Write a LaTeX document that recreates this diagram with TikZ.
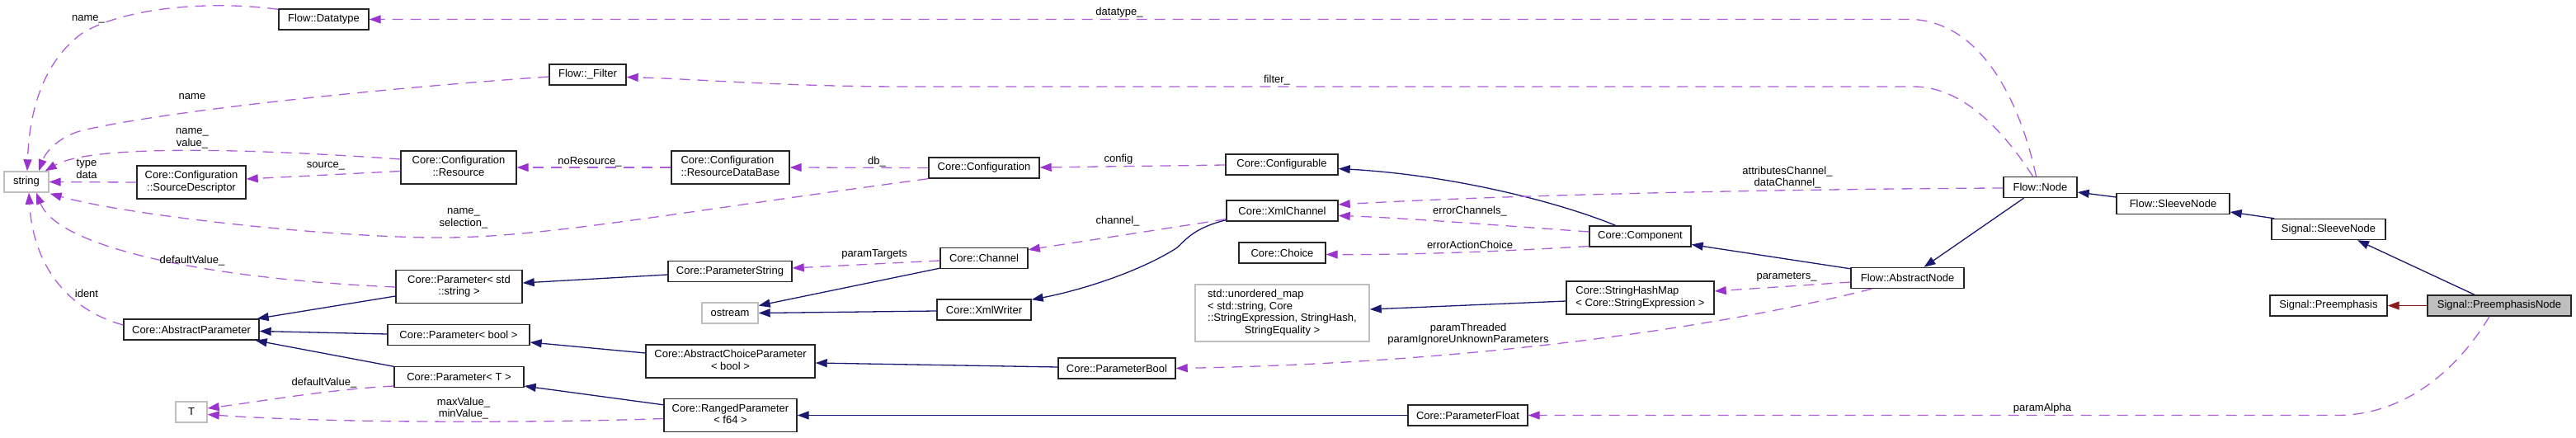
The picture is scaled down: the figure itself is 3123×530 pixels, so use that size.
\documentclass[tikz,border=0pt]{standalone}
\usepackage{fontspec}
\setmainfont{Liberation Sans}
\usetikzlibrary{arrows.meta,calc}
\definecolor{navy}{HTML}{191970}
\definecolor{orch}{HTML}{9A32CD}
\definecolor{orchline}{HTML}{AE5FDB}
\definecolor{fire}{HTML}{8B1A1A}
\definecolor{grey75}{HTML}{BFBFBF}
\newcommand{\dfont}{\fontsize{13}{14.7}\selectfont}
\newcommand{\mlt}[2]{\begin{tabular}{@{}l@{}}#1\\\multicolumn{1}{@{}c@{}}{#2}\end{tabular}}
\begin{document}
\begin{tikzpicture}[x=1pt,y=-1pt,
 cls/.style={draw=black!85, line width=1.4pt, fill=white, inner sep=0pt, font=\dfont, minimum height=25pt},
 ext/.style={cls, draw=grey75},
 inh/.style={draw=navy, line width=1.3pt, -{Triangle[length=14pt,width=10pt]}},
 priv/.style={draw=fire, line width=1.3pt, -{Triangle[length=14pt,width=10pt]}},
 use/.style={draw=orchline, line width=1.3pt, dash pattern=on 13pt off 9pt, -{Triangle[length=14pt,width=10pt,color=orch]}},
 lbl/.style={font=\dfont, align=center, inner sep=0pt}]
\useasboundingbox (0,0) rectangle (3123,530);

% nodes
\node[ext, minimum width=54pt] (str) at (32,220.5) {string};
\node[cls, minimum width=109pt] (dt) at (392.5,23.5) {Flow::Datatype};
\node[cls, minimum width=132pt, minimum height=40pt] (sd) at (232,221) {\mlt{Core::Configuration}{::SourceDescriptor}};
\node[cls, minimum width=140pt, minimum height=40pt] (res) at (556,203) {\mlt{Core::Configuration}{::Resource}};
\node[cls, minimum width=93pt] (flt) at (712.5,90.5) {Flow::\_Filter};
\node[cls, minimum width=143pt, minimum height=40pt] (rdb) at (885.5,203) {\mlt{Core::Configuration}{::ResourceDataBase}};
\node[cls, minimum width=134pt] (conf) at (1193,203.5) {Core::Configuration};
\node[cls, minimum width=136pt] (cfg) at (1554,199.5) {Core::Configurable};
\node[cls, minimum width=135pt] (xc) at (1554.5,255.5) {Core::XmlChannel};
\node[cls, minimum width=89pt] (fn) at (2473.5,227) {Flow::Node};
\node[cls, minimum width=137pt] (fs) at (2634.5,247) {Flow::SleeveNode};
\node[cls, minimum width=138pt] (ss) at (2823,278) {Signal::SleeveNode};
\node[cls, minimum width=142pt] (pre) at (2823,370.5) {Signal::Preemphasis};
\node[cls, minimum width=174pt, fill=grey75] (pn) at (3030,370.5) {Signal::PreemphasisNode};
\node[cls, minimum width=164pt] (ap) at (232,399.5) {Core::AbstractParameter};
\node[ext, minimum width=38pt] (T) at (232,499.5) {T};
\node[cls, minimum width=153pt, minimum height=40pt] (pss) at (556.5,347.5) {\mlt{Core::Parameter< std}{::string >}};
\node[cls, minimum width=172pt] (pb) at (556,406) {Core::Parameter< bool >};
\node[cls, minimum width=157pt] (pt) at (556.5,457) {Core::Parameter< T >};
\node[cls, minimum width=150pt] (pstr) at (885,329) {Core::ParameterString};
\node[ext, minimum width=68pt] (os) at (885,379.5) {ostream};
\node[cls, minimum width=205pt, minimum height=40pt] (acp) at (885.5,438) {\mlt{Core::AbstractChoiceParameter}{< bool >}};
\node[cls, minimum width=161pt, minimum height=40pt] (rp) at (885.5,503.5) {\mlt{Core::RangedParameter}{< f64 >}};
\node[cls, minimum width=106pt] (ch) at (1193,313) {Core::Channel};
\node[cls, minimum width=114pt] (xw) at (1193,375.5) {Core::XmlWriter};
\node[ext, minimum width=211pt, minimum height=69pt] (um) at (1554.5,379.5) {\begin{tabular}{@{}l@{}}std::unordered\_map\\< std::string, Core\\::StringExpression, StringHash,\\\multicolumn{1}{@{}c@{}}{StringEquality >}\end{tabular}};
\node[cls, minimum width=142pt] (pbool) at (1354,446.5) {Core::ParameterBool};
\node[cls, minimum width=105pt] (cho) at (1554.5,306.5) {Core::Choice};
\node[cls, minimum width=123pt] (comp) at (1988.5,286.5) {Core::Component};
\node[cls, minimum width=179pt, minimum height=40pt] (shm) at (1988.5,361) {\mlt{Core::StringHashMap}{< Core::StringExpression >}};
\node[cls, minimum width=145pt] (pf) at (1779.5,503.5) {Core::ParameterFloat};
\node[cls, minimum width=137pt] (an) at (2312.5,337) {Flow::AbstractNode};

% inheritance
\draw[inh] ($(pn.north)+(-30,0)$) -- ($(ss.south)+(35,0)$);
\draw[inh] ($(ss.north west)+(4,0)$) -- ($(fs.east)+(0,10)$);
\draw[inh] ($(fs.west)+(0,-8)$) -- ($(fn.east)+(0,6)$);
\draw[inh] ($(fn.south)+(-20,0)$) -- ($(an.north)+(20,0)$);
\draw[inh] ($(an.north west)+(0,2)$) -- ($(comp.east)+(0,10)$);
\draw[inh] ($(comp.north)+(-30,0)$) .. controls (1890,245) and (1760,212) .. ($(cfg.east)+(0,5)$);
\draw[inh] ($(xc.south west)+(0,-2)$) .. controls (1445,277) and (1437,292) .. (1426,301) .. controls (1380,330) and (1310,352) .. ($(xw.north east)+(0,1)$);
\draw[inh] ($(ch.south west)+(0,-1)$) -- ($(os.east)+(0,-9)$);
\draw[inh] ($(xw.west)+(0,1.5)$) -- (os.east);
\draw[inh] ($(pstr.west)+(0,4)$) -- ($(pss.east)+(0,-4.5)$);
\draw[inh] ($(acp.west)+(0,-10)$) -- ($(pb.east)+(0,9)$);
\draw[inh] ($(pbool.west)+(0,-1.5)$) -- ($(acp.east)+(0,2)$);
\draw[inh] ($(rp.north west)+(0,8)$) -- ($(pt.east)+(0,11)$);
\draw[inh] (pf.west) -- (rp.east);
\draw[inh] ($(pss.west)+(0,11.5)$) -- ($(ap.north east)+(-3,0)$);
\draw[inh] ($(pb.west)+(0,-1)$) -- ($(ap.east)+(0,2)$);
\draw[inh] ($(pt.north west)+(0,0.5)$) -- ($(ap.south east)+(-5,0)$);
\draw[inh] ($(shm.west)+(0,4)$) -- ($(um.east)+(0,-4.5)$);
\draw[priv] (pn.west) -- (pre.east);

% usage
\draw[use] ($(fn.north)+(-5,0)$) .. controls (2455,150) and (2415,30) .. (2320,23.5) -- (dt.east);
\node[lbl] (l1) at (1357,15) {datatype\_};
\draw[use] ($(fn.north)+(-9,0)$) .. controls (2430,160) and (2380,105) .. (2320,105) -- (1100,105) .. controls (950,105) and (850,96) .. ($(flt.east)+(0,3)$);
\node[lbl] (l2) at (1548,97) {filter\_};
\draw[use] ($(dt.north west)+(0,1)$) .. controls (250,0) and (150,10) .. (100,40) .. controls (45,80) and (35,150) .. ($(str.north)+(1,0)$);
\node[lbl] (l3) at (107,23) {name\_};
\draw[use] ($(flt.west)+(0,2.5)$) .. controls (450,108) and (200,135) .. (100,158) .. controls (70,166) and (55,185) .. ($(str.north)+(15,0)$);
\node[lbl] (l4) at (233,117) {name};
\draw[use] ($(res.west)+(0,-10)$) .. controls (300,180) and (110,175) .. ($(str.north east)+(-5,0)$);
\node[lbl] (l5) at (233,168) {name\_\\value\_};
\draw[use] (sd.west) -- (str.east);
\node[lbl] (l6) at (105,205) {type\\data};
\draw[use] ($(res.west)+(0,4.5)$) -- ($(sd.east)+(0,-4)$);
\node[lbl] (l7) at (395,201) {source\_};
\draw[use] (rdb.west) -- (res.east);
\node[lbl] (l8) at (715,196) {noResource\_};
\draw[use] (conf.west) -- (rdb.east);
\node[lbl] (l9) at (1063,196) {db\_};
\draw[use] (conf.south west) .. controls (800,260) and (650,290) .. (520,288) .. controls (380,286) and (150,260) .. ($(str.south east)+(1,1)$);
\node[lbl] (l10) at (562,265) {name\_\\selection\_};
\draw[use] ($(cfg.west)+(0,0.5)$) -- ($(conf.east)+(0,-0.5)$);
\node[lbl] (l11) at (1356,193) {config};
\draw[use] ($(fn.west)+(0,1)$) .. controls (2200,229) and (1850,235) .. ($(xc.east)+(0,-7.5)$);
\node[lbl] (l12) at (2167,215) {attributesChannel\_\\dataChannel\_};
\draw[use] ($(comp.west)+(0,-5.5)$) .. controls (1800,272) and (1700,264) .. ($(xc.east)+(0,6)$);
\node[lbl] (l13) at (1782,256) {errorChannels\_};
\draw[use] ($(xc.south west)+(0,-3)$) -- ($(ch.north east)+(0,3)$);
\node[lbl] (l14) at (1355,268) {channel\_};
\draw[use] ($(comp.west)+(0,12)$) .. controls (1800,306) and (1700,309) .. ($(cho.east)+(0,2)$);
\node[lbl] (l15) at (1782,297) {errorActionChoice};
\draw[use] ($(ch.west)+(0,3)$) -- ($(pstr.east)+(0,-4)$);
\node[lbl] (l16) at (1060,308) {paramTargets};
\draw[use] ($(an.west)+(0,5)$) -- ($(shm.east)+(0,-8)$);
\node[lbl] (l17) at (2166,336) {parameters\_};
\draw[use] ($(an.south west)+(26,0)$) .. controls (2100,393) and (1800,440) .. (pbool.east);
\node[lbl] (l18) at (1780,405) {paramThreaded\\paramIgnoreUnknownParameters};
\draw[use] ($(pn.south)+(-12,0)$) .. controls (2975,455) and (2910,503.5) .. (2833,503.5) -- (pf.east);
\node[lbl] (l19) at (2476,495) {paramAlpha};
\draw[use] ($(pss.west)+(0,0.5)$) .. controls (250,338) and (70,300) .. ($(str.south)+(12,0)$);
\node[lbl] (l20) at (233,316) {defaultValue\_};
\draw[use] ($(ap.west)+(0,-5.5)$) .. controls (80,375) and (40,320) .. ($(str.south)+(3,0)$);
\node[lbl] (l21) at (105,356) {ident};
\draw[use] ($(pt.west)+(0,11)$) .. controls (400,472) and (320,486) .. ($(T.east)+(0,-4.5)$);
\node[lbl] (l22) at (393,464) {defaultValue\_};
\draw[use] ($(rp.west)+(0,4)$) .. controls (650,513) and (400,513) .. ($(T.east)+(0,3)$);
\node[lbl] (l23) at (562,495) {maxValue\_\\minValue\_};
\end{tikzpicture}
\end{document}
